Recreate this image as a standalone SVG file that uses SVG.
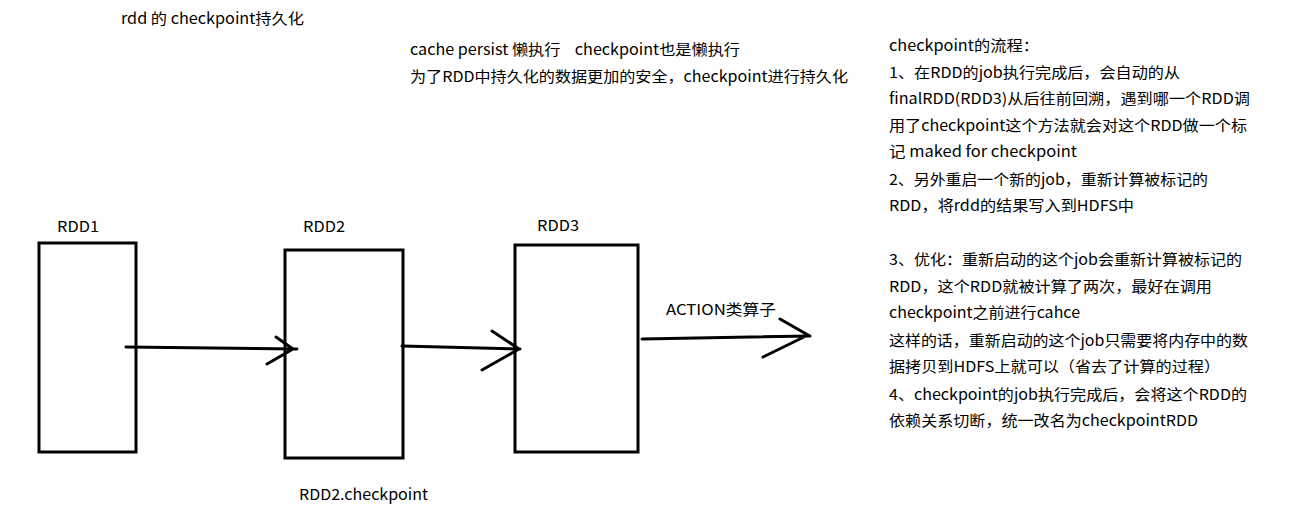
<svg xmlns="http://www.w3.org/2000/svg" width="1296" height="520" viewBox="0 0 1296 520">
<style>
text{font-family:"Microsoft YaHei","Noto Sans CJK SC","Noto Sans",sans-serif;font-size:15px;fill:#000}
.box{fill:#fff;stroke:#000;stroke-width:3}
.ln{fill:none;stroke:#000;stroke-width:3;stroke-linecap:round}
</style>
<rect width="1296" height="520" fill="#fff"/>
<text x="121" y="24" textLength="183" lengthAdjust="spacingAndGlyphs">rdd 的 checkpoint持久化</text>
<text x="410" y="55" xml:space="preserve" textLength="330" lengthAdjust="spacingAndGlyphs">cache persist 懒执行    checkpoint也是懒执行</text>
<text x="410" y="82" textLength="438" lengthAdjust="spacingAndGlyphs">为了RDD中持久化的数据更加的安全，checkpoint进行持久化</text>
<g id="notes">
<text x="889" y="51" textLength="150" lengthAdjust="spacingAndGlyphs">checkpoint的流程：</text>
<text x="889" y="78" textLength="291" lengthAdjust="spacingAndGlyphs">1、在RDD的job执行完成后，会自动的从</text>
<text x="889" y="104" textLength="361" lengthAdjust="spacingAndGlyphs">finalRDD(RDD3)从后往前回溯，遇到哪一个RDD调</text>
<text x="889" y="131" textLength="358" lengthAdjust="spacingAndGlyphs">用了checkpoint这个方法就会对这个RDD做一个标</text>
<text x="889" y="157" textLength="188" lengthAdjust="spacingAndGlyphs">记 maked for checkpoint</text>
<text x="889" y="185" textLength="319" lengthAdjust="spacingAndGlyphs">2、另外重启一个新的job，重新计算被标记的</text>
<text x="889" y="211" textLength="245" lengthAdjust="spacingAndGlyphs">RDD，将rdd的结果写入到HDFS中</text>
<text x="889" y="265" textLength="353" lengthAdjust="spacingAndGlyphs">3、优化：重新启动的这个job会重新计算被标记的</text>
<text x="889" y="292" textLength="323" lengthAdjust="spacingAndGlyphs">RDD，这个RDD就被计算了两次，最好在调用</text>
<text x="889" y="318" textLength="191" lengthAdjust="spacingAndGlyphs">checkpoint之前进行cahce</text>
<text x="889" y="346" textLength="359" lengthAdjust="spacingAndGlyphs">这样的话，重新启动的这个job只需要将内存中的数</text>
<text x="889" y="372" textLength="331" lengthAdjust="spacingAndGlyphs">据拷贝到HDFS上就可以（省去了计算的过程）</text>
<text x="889" y="400" textLength="358" lengthAdjust="spacingAndGlyphs">4、checkpoint的job执行完成后，会将这个RDD的</text>
<text x="889" y="426" textLength="309" lengthAdjust="spacingAndGlyphs">依赖关系切断，统一改名为checkpointRDD</text>
</g>
<g id="rdd1">
<rect class="box" x="39" y="243" width="97" height="209"/>
<text x="57" y="232" textLength="42" lengthAdjust="spacingAndGlyphs">RDD1</text>
</g>
<g id="rdd2">
<rect class="box" x="285" y="250" width="118" height="208"/>
<text x="303" y="232" textLength="42" lengthAdjust="spacingAndGlyphs">RDD2</text>
<text x="299" y="500" textLength="129" lengthAdjust="spacingAndGlyphs">RDD2.checkpoint</text>
</g>
<g id="rdd3">
<rect class="box" x="515" y="245" width="123" height="207"/>
<text x="537" y="231" textLength="42" lengthAdjust="spacingAndGlyphs">RDD3</text>
</g>
<g id="connectors">
<path class="ln" d="M126 347 L297 349 M276 337 L293 349 M267 364 L293 349"/>
<path class="ln" d="M402 346 L520 349 M492 331 L519 349 M482 370 L519 349"/>
<path class="ln" d="M642 339 L810 336 M780 319 L808 335 M763 357 L808 335"/>
<text x="666" y="315" textLength="110" lengthAdjust="spacingAndGlyphs">ACTION类算子</text>
</g>
</svg>
